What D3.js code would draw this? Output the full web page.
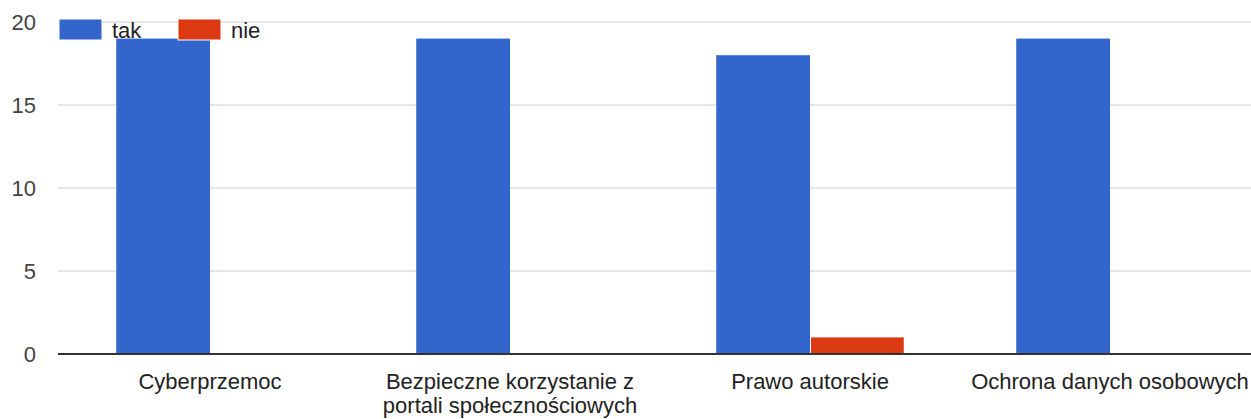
<!DOCTYPE html>
<html>
<head>
<meta charset="utf-8">
<script src="https://cdn.jsdelivr.net/npm/d3@7"></script>
<style>
  html, body { margin: 0; padding: 0; background: #fff; }
  svg { display: block; font-family: Arial, "Liberation Sans", sans-serif; }
</style>
</head>
<body>
<div id="chart"></div>
<script>
// data
const categories = ["Cyberprzemoc", "Bezpieczne korzystanie z portali społecznościowych", "Prawo autorskie", "Ochrona danych osobowych"];
const seriesNames = ["tak", "nie"];
const takValues = [19, 19, 18, 19];
const nieValues = [0, 0, 1, 0];
const yTicks = [0, 5, 10, 15, 20];
const colors = ["#3366cc", "#dc3912"];

const width = 1251, height = 419;
const svg = d3.select("#chart").append("svg").attr("width", width).attr("height", height);

const x = d3.scaleBand().domain(categories).range([60, 1260]).paddingInner(0.375).paddingOuter(0.1875);
const xs = d3.scaleBand().domain(seriesNames).range([0, x.bandwidth()]);
const y = d3.scaleLinear().domain([0, 20]).range([354, 22]);

// gridlines
svg.append("g").selectAll("line").data(yTicks.filter(d => d !== 0)).join("line")
    .attr("x1", 58).attr("x2", width)
    .attr("y1", d => y(d)).attr("y2", d => y(d))
    .attr("stroke", "#cccccc").attr("stroke-width", 1);

// y labels
svg.append("g").selectAll("text").data(yTicks).join("text")
    .attr("x", 36).attr("y", d => y(d)).attr("dy", "0.35em")
    .attr("text-anchor", "end").attr("font-size", 22).attr("fill", "#444")
    .text(d => d);

// bars
const rows = categories.map((c, i) => ({ cat: c, values: [takValues[i], nieValues[i]] }));
const groups = svg.append("g").selectAll("g").data(rows).join("g")
    .attr("transform", d => "translate(" + x(d.cat) + ",0)");
groups.selectAll("rect").data(d => d.values.map((v, j) => ({ name: seriesNames[j], v: v, j: j })))
    .join("rect")
    .filter(d => d.v > 0)
    .attr("x", d => xs(d.name) + (d.j > 0 ? 1 : 0))
    .attr("width", d => xs.bandwidth() - (d.j > 0 ? 1 : 0))
    .attr("y", d => y(d.v))
    .attr("height", d => y(0) - y(d.v))
    .attr("fill", d => colors[d.j]);

// baseline
svg.append("line").attr("x1", 58).attr("x2", width)
    .attr("y1", y(0)).attr("y2", y(0))
    .attr("stroke", "#333").attr("stroke-width", 2);

// category labels with wrapping
const labels = svg.append("g").selectAll("text").data(categories).join("text")
    .attr("x", d => x(d) + xs.bandwidth())
    .attr("y", 389)
    .attr("text-anchor", "middle").attr("font-size", 22).attr("fill", "#222");

labels.each(function (d) {
    const t = d3.select(this);
    const words = d.split(" ");
    let line = [];
    let tspan = t.append("tspan").attr("x", t.attr("x")).attr("dy", 0);
    let lineNo = 0;
    words.forEach(w => {
        line.push(w);
        tspan.text(line.join(" "));
        if (tspan.node().getComputedTextLength() > x.step() && line.length > 1) {
            line.pop();
            tspan.text(line.join(" "));
            line = [w];
            lineNo++;
            tspan = t.append("tspan").attr("x", t.attr("x")).attr("dy", 24).text(w);
        }
    });
});

// legend
const legend = svg.append("g").selectAll("g").data(seriesNames).join("g")
    .attr("transform", (d, i) => "translate(" + (59 + i * 119) + ",19)");
legend.append("rect").attr("width", 43).attr("height", 21)
    .attr("fill", (d, i) => colors[i]).attr("stroke", "#fff").attr("stroke-width", 1);
legend.append("text").attr("x", 53).attr("y", 11).attr("dy", "0.35em")
    .attr("font-size", 22).attr("fill", "#222").text(d => d);
</script>
</body>
</html>
